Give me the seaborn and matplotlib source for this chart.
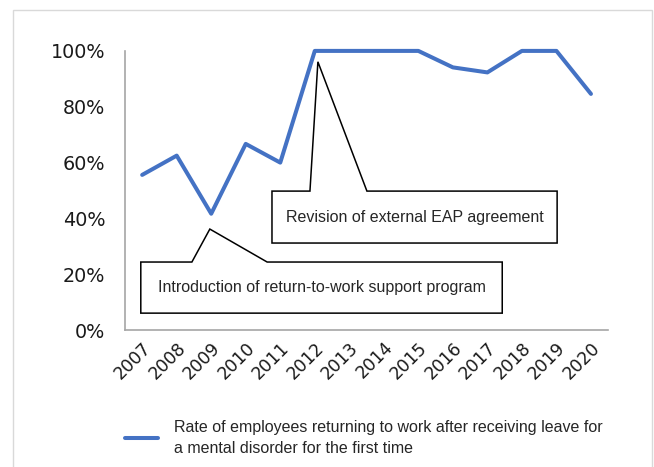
import matplotlib
matplotlib.use("Agg")
import matplotlib.pyplot as plt
import seaborn as sns
import pandas as pd
from matplotlib.patches import Polygon, Rectangle

# data
years = ['2007', '2008', '2009', '2010', '2011', '2012', '2013',
         '2014', '2015', '2016', '2017', '2018', '2019', '2020']
rate = [55.6, 62.5, 41.7, 66.7, 60.0, 100, 100, 100, 100, 94.1, 92.3, 100, 100, 84.6]
series_name = ('Rate of employees returning to work after receiving leave for\n'
               'a mental disorder for the first time')
note_1 = 'Introduction of return-to-work support program'
note_2 = 'Revision of external EAP agreement'

df = pd.DataFrame({'year': years, 'rate': rate})

sns.set_style('white')
plt.rcParams['font.family'] = ['Liberation Sans', 'DejaVu Sans']

fig = plt.figure(figsize=(6.54, 4.67), dpi=100)
ax = fig.add_axes([0.191, 0.293, 0.739, 0.598])

x_pos = list(range(len(years)))
sns.lineplot(x=x_pos, y=df['rate'], ax=ax, color='#4472C4', linewidth=2.9,
             label=series_name, clip_on=False)

ax.set_xlim(-0.5, len(years) - 0.5)
ax.set_ylim(0, 100)
ax.set_yticks([0, 20, 40, 60, 80, 100])
ax.set_yticklabels([f'{v}%' for v in [0, 20, 40, 60, 80, 100]],
                   fontsize=13.8, family='DejaVu Sans', color='#1a1a1a')
ax.set_xticks(x_pos)
ax.set_xticklabels(years, rotation=45, ha='right', rotation_mode='anchor',
                   fontsize=12.5, family='DejaVu Sans', color='#1a1a1a')
ax.set_xticks([i - 0.5 for i in range(len(years) + 1)], minor=True)
ax.tick_params(axis='x', which='major', length=0, pad=6)
ax.tick_params(axis='x', which='minor', length=5, color='#a6a6a6', width=1.2,
               direction='out')
ax.tick_params(axis='y', length=6, color='#a6a6a6', width=1.2, direction='out', pad=8)
ax.set_xlabel('')
ax.set_ylabel('')
for s in ['top', 'right']:
    ax.spines[s].set_visible(False)
for s in ['left', 'bottom']:
    ax.spines[s].set_color('#a6a6a6')
    ax.spines[s].set_linewidth(1.2)

# callout boxes (x in category units, y in percent)
call_1 = [(-0.04, 6.1), (-0.04, 24.4), (1.44, 24.4), (1.96, 36.2), (3.62, 24.4),
          (10.43, 24.4), (10.43, 6.1)]
call_2 = [(3.76, 31.2), (3.76, 49.8), (4.86, 49.8), (5.09, 96.1), (6.51, 49.8),
          (12.02, 49.8), (12.02, 31.2)]
for pts in [call_1, call_2]:
    ax.add_patch(Polygon(pts, closed=True, facecolor='white', edgecolor='black',
                         linewidth=1.1, zorder=3, clip_on=False))
ax.text((call_1[0][0] + call_1[-1][0]) / 2, (6.1 + 24.4) / 2, note_1,
        ha='center', va='center', fontsize=11.5, zorder=4)
ax.text((call_2[0][0] + call_2[-1][0]) / 2, (31.2 + 49.8) / 2, note_2,
        ha='center', va='center', fontsize=11.5, zorder=4)

leg = ax.legend(loc='upper left', bbox_to_anchor=(-0.03, -0.27), frameon=False,
                fontsize=11.5, handlelength=2.1, handletextpad=1.0)
for t in leg.get_texts():
    t.set_linespacing(1.5)

fig.add_artist(Rectangle((0.02, -0.1), 0.977, 1.079, transform=fig.transFigure,
                         fill=False, edgecolor='#d9d9d9', linewidth=1))

fig.savefig('out.png', dpi=100)
